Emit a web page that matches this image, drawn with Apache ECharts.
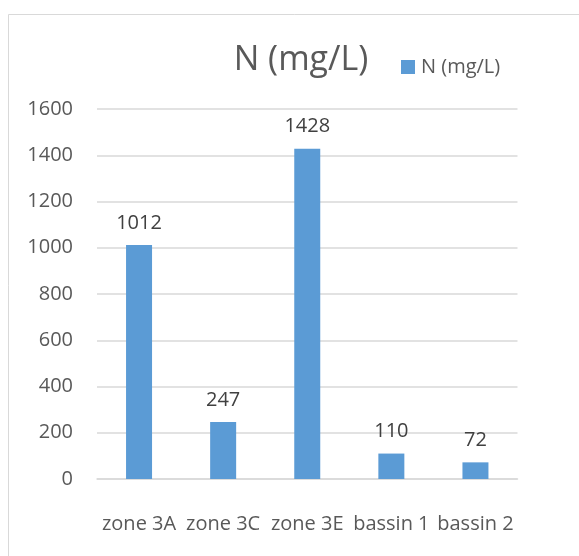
<!DOCTYPE html>
<html>
<head>
<meta charset="utf-8">
<script src="https://cdn.jsdelivr.net/npm/echarts@6/dist/echarts.min.js"></script>
<style>
  html, body { margin: 0; padding: 0; background: #fff; }
  #chart { width: 579px; height: 556px; }
</style>
</head>
<body>
<div id="chart"></div>
<script>
var categories = ['zone 3A', 'zone 3C', 'zone 3E', 'bassin 1', 'bassin 2'];
var nValues = [1012, 247, 1428, 110, 72];
var yTicks = [0, 200, 400, 600, 800, 1000, 1200, 1400, 1600];

var font = '"Open Sans", sans-serif';
var chart = echarts.init(document.getElementById('chart'));

chart.setOption({
    animation: false,
    backgroundColor: '#fff',
    // outer frame of the chart area
    graphic: [{
        type: 'rect',
        silent: true,
        shape: { x: 8.5, y: 14.5, width: 700, height: 700 },
        style: { fill: 'none', stroke: '#d9d9d9', lineWidth: 1 }
    }],
    title: {
        text: 'N (mg/L)',
        left: 296,
        top: 38,
        textAlign: 'center',
        textStyle: { fontFamily: font, fontSize: 34, fontWeight: 'normal', color: '#595959' }
    },
    legend: {
        left: 396,
        top: 52,
        itemWidth: 14,
        itemHeight: 14,
        itemGap: 4,
        icon: 'rect',
        textStyle: { fontFamily: font, fontSize: 20, color: '#595959', padding: [0, 0, 0, 1] },
        data: ['N (mg/L)']
    },
    grid: { left: 97, right: 61.5, top: 109, bottom: 77, containLabel: false },
    xAxis: {
        type: 'category',
        data: categories,
        axisLine: { lineStyle: { color: '#d9d9d9', width: 1.5 } },
        axisTick: { show: false },
        axisLabel: { fontFamily: font, fontSize: 20, color: '#595959', margin: 35, interval: 0 }
    },
    yAxis: {
        type: 'value',
        min: yTicks[0],
        max: yTicks[yTicks.length - 1],
        interval: yTicks[1] - yTicks[0],
        axisLine: { show: false },
        axisTick: { show: false },
        splitLine: { lineStyle: { color: '#d9d9d9', width: 1.5 } },
        axisLabel: {
            fontFamily: font, fontSize: 20, color: '#595959', margin: 24,
            formatter: function (v) { return String(v); }
        }
    },
    series: [{
        name: 'N (mg/L)',
        type: 'bar',
        data: nValues,
        barWidth: 26,
        itemStyle: { color: '#5b9bd5' },
        label: {
            show: true,
            position: 'top',
            distance: 12,
            fontFamily: font,
            fontSize: 20,
            color: '#404040'
        }
    }]
});
</script>
</body>
</html>
